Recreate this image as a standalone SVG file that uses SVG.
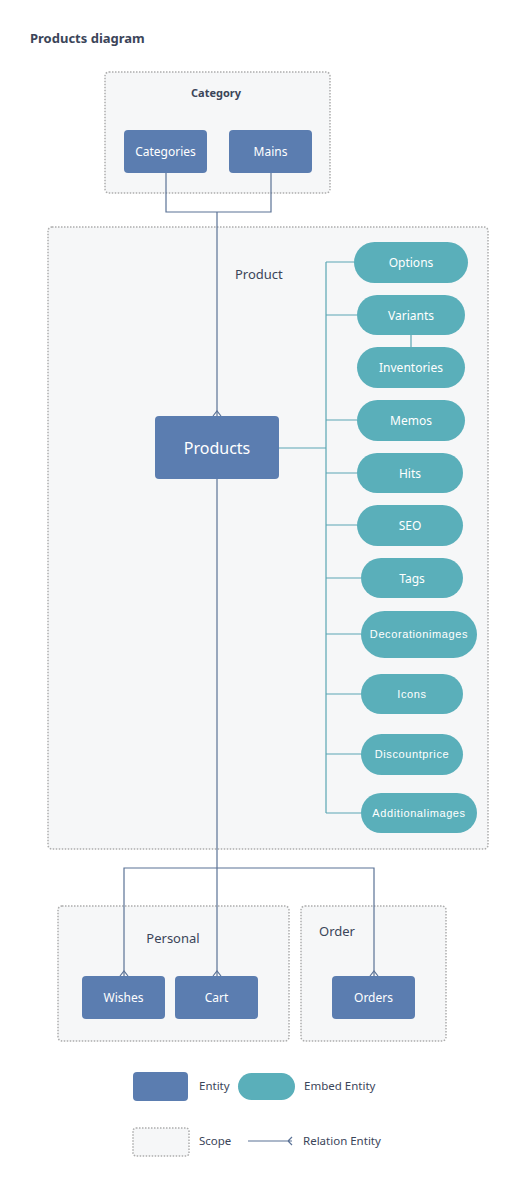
<svg xmlns="http://www.w3.org/2000/svg" width="519" height="1186" viewBox="0 0 519 1186">
<style>
.scope{fill:#f6f7f8;stroke:#adadad;stroke-width:1.5;stroke-dasharray:1.5 1.5}
.ent{fill:#5b7db0}
.emb{fill:#5aafba}
.wt{fill:#ffffff;font-family:"Noto Sans","DejaVu Sans",sans-serif;font-size:12px;text-anchor:middle}
.ar{fill:#ffffff;font-family:"Liberation Sans",Arial,sans-serif;font-size:11px;letter-spacing:0.6px;text-anchor:middle}
.lbl{fill:#3b4559;font-family:"Noto Sans","DejaVu Sans",sans-serif;font-size:13px}
.lg{fill:#3b4559;font-family:"Noto Sans","DejaVu Sans",sans-serif;font-size:11.5px}
.rel{fill:none;stroke:#5b7296;stroke-width:1.2}
.embl{fill:none;stroke:#5aa6b3;stroke-width:1.2}
</style>
<rect width="519" height="1186" fill="#ffffff"/>
<text x="30" y="43" class="lbl" style="font-weight:bold">Products diagram</text>

<g id="scope-category">
<rect x="105" y="72" width="225" height="121" rx="4" class="scope"/>
<text x="216" y="97" class="lbl" style="font-size:11px;font-weight:bold;text-anchor:middle">Category</text>
</g>
<g id="scope-product">
<rect x="48" y="227" width="440" height="622" rx="4" class="scope"/>
<text x="235" y="279" class="lbl">Product</text>
</g>
<g id="scope-personal">
<rect x="58" y="906" width="231" height="135" rx="4" class="scope"/>
<text x="173" y="943" class="lbl" style="text-anchor:middle">Personal</text>
</g>
<g id="scope-order">
<rect x="301" y="906" width="145" height="135" rx="4" class="scope"/>
<text x="319" y="936" class="lbl">Order</text>
</g>

<g id="connectors">
<path class="rel" d="M166 173V212H271V173M217 212V416"/>
<path class="rel" d="M213 416L217 411L221 416"/>
<path class="rel" d="M217 479V976M124 976V868H374V976"/>
<path class="rel" d="M120 976L124 971L128 976M213 976L217 971L221 976M370 976L374 971L378 976"/>
<path class="embl" d="M279 448H326M326 262V813M326 262H354M326 315H357M411 335V347M326 420H357M326 473H357M326 525H357M326 578H361M326 634H361M326 694H361M326 754H361M326 813H361"/>
</g>

<g id="categories"><rect x="124" y="130" width="83" height="43" rx="4" class="ent"/><text x="165.5" y="156" class="wt">Categories</text></g>
<g id="mains"><rect x="229" y="130" width="83" height="43" rx="4" class="ent"/><text x="270.5" y="156" class="wt">Mains</text></g>
<g id="products"><rect x="155" y="416" width="124" height="63" rx="4" class="ent"/><text x="217" y="454" class="wt" style="font-size:16px">Products</text></g>

<g id="options"><rect x="354" y="242" width="114" height="41" rx="20.5" class="emb"/><text x="411" y="266.5" class="wt">Options</text></g>
<g id="variants"><rect x="357" y="295" width="108" height="40" rx="20" class="emb"/><text x="411" y="319.5" class="wt">Variants</text></g>
<g id="inventories"><rect x="357" y="347" width="108" height="41" rx="20.5" class="emb"/><text x="411" y="371.5" class="wt">Inventories</text></g>
<g id="memos"><rect x="357" y="400" width="108" height="41" rx="20.5" class="emb"/><text x="411" y="424.5" class="wt">Memos</text></g>
<g id="hits"><rect x="357" y="453" width="106" height="40" rx="20" class="emb"/><text x="410" y="477.5" class="wt">Hits</text></g>
<g id="seo"><rect x="357" y="505" width="106" height="41" rx="20.5" class="emb"/><text x="410" y="529.5" class="wt">SEO</text></g>
<g id="tags"><rect x="361" y="558" width="102" height="40" rx="20" class="emb"/><text x="412" y="582.5" class="wt">Tags</text></g>
<g id="decorationimages"><rect x="361" y="611" width="116" height="47" rx="23.5" class="emb"/><text x="419" y="638" class="ar">Decorationimages</text></g>
<g id="icons"><rect x="361" y="674" width="102" height="40" rx="20" class="emb"/><text x="412" y="698" class="ar">Icons</text></g>
<g id="discountprice"><rect x="361" y="734" width="102" height="41" rx="20.5" class="emb"/><text x="412" y="758" class="ar">Discountprice</text></g>
<g id="additionalimages"><rect x="361" y="793" width="116" height="40" rx="20" class="emb"/><text x="419" y="817" class="ar">Additionalimages</text></g>

<g id="wishes"><rect x="82" y="976" width="83" height="43" rx="4" class="ent"/><text x="123.5" y="1002" class="wt">Wishes</text></g>
<g id="cart"><rect x="175" y="976" width="83" height="43" rx="4" class="ent"/><text x="216.5" y="1002" class="wt">Cart</text></g>
<g id="orders"><rect x="332" y="976" width="83" height="43" rx="4" class="ent"/><text x="373.5" y="1002" class="wt">Orders</text></g>

<g id="legend">
<rect x="133" y="1072" width="55" height="29" rx="4" class="ent"/>
<text x="199" y="1090" class="lg">Entity</text>
<rect x="238" y="1073" width="57" height="27" rx="13.5" class="emb"/>
<text x="304" y="1090" class="lg">Embed Entity</text>
<rect x="133" y="1128" width="56" height="28" rx="3" class="scope"/>
<text x="199" y="1145" class="lg">Scope</text>
<path class="rel" d="M248 1141H292M292 1137L288 1141L292 1145"/>
<text x="303" y="1145" class="lg">Relation Entity</text>
</g>
</svg>
